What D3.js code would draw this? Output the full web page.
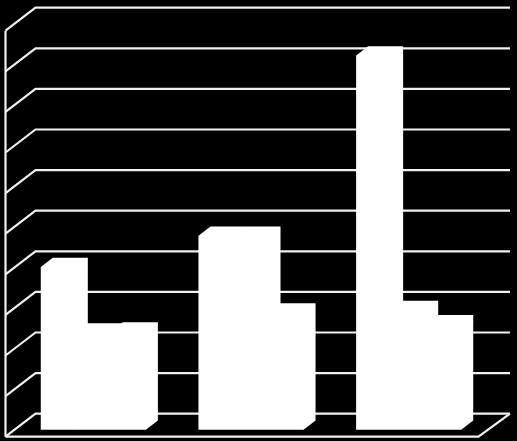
<!DOCTYPE html>
<html>
<head>
<meta charset="utf-8">
<script src="https://cdn.jsdelivr.net/npm/d3@7"></script>
<style>
  html, body { margin: 0; padding: 0; background: #000; }
  svg { display: block; }
</style>
</head>
<body>
<div id="chart"></div>
<script>
// values
var categories = ["A", "B", "C"];
var seriesNames = ["s1", "s2", "s3"];
var series1 = [40.1, 47.8, 92.2];
var series2 = [24.0, 47.8, 29.5];
var series3 = [24.2, 28.9, 26.0];
var tickValues = [0, 10, 20, 30, 40, 50, 60, 70, 80, 90, 100];

var svgWidth = 517;
var svgHeight = 441;

// front corner of the floor and how far the depth goes
var floorLeft = 5.5;
var floorRight = 478.5;
var floorY = 436.7;
var depthX = 30;
var depthY = 23;
var backRight = 510;
var lineColor = "#f0f0f0";

var svg = d3.select("#chart")
  .append("svg")
  .attr("width", svgWidth)
  .attr("height", svgHeight);

svg.append("rect")
  .attr("width", svgWidth)
  .attr("height", svgHeight)
  .attr("fill", "#000");

var xGroup = d3.scaleBand()
  .domain(categories)
  .range([floorLeft, floorRight])
  .paddingInner(1 / 3)
  .paddingOuter(1 / 6);

var xBar = d3.scaleBand()
  .domain(seriesNames)
  .range([0, xGroup.bandwidth()]);

// height above the floor
var yHeight = d3.scaleLinear()
  .domain([0, 100])
  .range([0, 406]);

// gridlines: wall part + back part
var grid = svg.append("g")
  .attr("fill", "none")
  .attr("stroke", lineColor)
  .attr("stroke-width", 2.2);

grid.selectAll("path")
  .data(tickValues)
  .enter()
  .append("path")
  .attr("d", function(d) {
    var h = yHeight(d);
    return d3.line()([
      [floorLeft, floorY - h],
      [floorLeft + depthX, floorY - depthY - h],
      [backRight, floorY - depthY - h]
    ]);
  });

// left wall edge
grid.append("path")
  .attr("d", d3.line()([
    [floorLeft, floorY - yHeight(100)],
    [floorLeft, floorY]
  ]));

// floor front and right side
grid.append("path")
  .attr("d", d3.line()([
    [floorLeft, floorY],
    [floorRight, floorY],
    [backRight, floorY - depthY]
  ]));

// bars sit in the middle of the depth
var barFront = 0.3;
var barBack = 0.7;
var seriesValues = [series1, series2, series3];
var barData = [];
categories.forEach(function(cat, i) {
  seriesNames.forEach(function(name, j) {
    barData.push({ cat: cat, name: name, value: seriesValues[j][i] });
  });
});

svg.append("g")
  .selectAll("path")
  .data(barData)
  .enter()
  .append("path")
  .attr("fill", "#fff")
  .attr("d", function(d) {
    var x0 = xGroup(d.cat) + xBar(d.name) + depthX * barFront;
    var x1 = x0 + xBar.bandwidth();
    var dx = depthX * (barBack - barFront);
    var dy = depthY * (barBack - barFront);
    var yBase = floorY - depthY * barFront;
    var yTop = yBase - dy - yHeight(d.value);
    return d3.line()([
      [x0, yBase],
      [x1, yBase],
      [x1 + dx, yBase - dy],
      [x1 + dx, yTop],
      [x0 + dx, yTop],
      [x0, yTop + dy]
    ]) + "Z";
  });
</script>
</body>
</html>
